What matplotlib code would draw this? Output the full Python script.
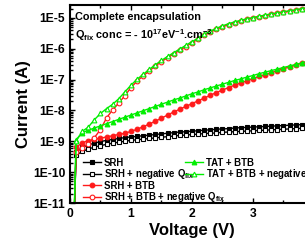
import numpy as np
import matplotlib.pyplot as plt

plt.rcParams['font.family'] = ['Liberation Sans', 'DejaVu Sans']
plt.rcParams['font.weight'] = 'bold'
plt.rcParams['mathtext.fontset'] = 'custom'
plt.rcParams['mathtext.rm'] = 'Liberation Sans:bold'
plt.rcParams['mathtext.bf'] = 'Liberation Sans:bold'
plt.rcParams['mathtext.default'] = 'bf'

# voltage grid (V); first point is the turn-on below the axis
v = [0.06] + [round(0.1 * i, 1) for i in range(1, 41)]

# log10 of current (A)
srh = [-12, -9.35, -9.20, -9.12, -9.06, -9.01, -8.97, -8.94, -8.91, -8.88, -8.86,
       -8.84, -8.82, -8.80, -8.78, -8.76, -8.74, -8.72, -8.70, -8.69, -8.67,
       -8.66, -8.64, -8.63, -8.61, -8.60, -8.59, -8.57, -8.56, -8.55, -8.54,
       -8.53, -8.52, -8.51, -8.50, -8.49, -8.48, -8.47, -8.46, -8.45, -8.44]
srh_q = [-12, -9.45, -9.33, -9.25, -9.19, -9.14, -9.10, -9.06, -9.03, -9.00, -8.97,
         -8.95, -8.93, -8.91, -8.89, -8.87, -8.85, -8.83, -8.81, -8.80, -8.78,
         -8.77, -8.75, -8.74, -8.73, -8.71, -8.70, -8.69, -8.68, -8.67, -8.66,
         -8.65, -8.64, -8.63, -8.62, -8.61, -8.60, -8.59, -8.58, -8.57, -8.56]
srh_btb = [-12, -9.20, -9.05, -8.98, -8.94, -8.90, -8.86, -8.82, -8.78, -8.74, -8.68,
           -8.61, -8.53, -8.44, -8.35, -8.25, -8.15, -8.05, -7.96, -7.87, -7.78,
           -7.69, -7.60, -7.51, -7.42, -7.34, -7.26, -7.18, -7.11, -7.04, -6.97,
           -6.90, -6.84, -6.78, -6.71, -6.65, -6.59, -6.53, -6.47, -6.42, -6.37]
srh_btb_q = [-12, -9.35, -9.22, -9.08, -8.88, -8.62, -8.24, -7.98, -7.76, -7.52, -7.26,
             -7.05, -6.88, -6.72, -6.56, -6.42, -6.29, -6.17, -6.05, -5.93, -5.81,
             -5.69, -5.57, -5.46, -5.37, -5.29, -5.22, -5.16, -5.10, -5.05, -5.01,
             -4.97, -4.93, -4.89, -4.86, -4.82, -4.79, -4.76, -4.72, -4.69, -4.66]
tat_btb = [-12, -8.95, -8.72, -8.64, -8.57, -8.50, -8.43, -8.36, -8.29, -8.22, -8.15,
           -8.08, -8.01, -7.94, -7.87, -7.80, -7.73, -7.66, -7.60, -7.53, -7.46,
           -7.40, -7.33, -7.27, -7.21, -7.15, -7.09, -7.03, -6.98, -6.92, -6.87,
           -6.81, -6.76, -6.71, -6.66, -6.61, -6.56, -6.51, -6.46, -6.41, -6.36]
tat_btb_q = [-12, -9.00, -8.68, -8.54, -8.30, -8.10, -7.94, -7.80, -7.62, -7.40, -7.18,
             -6.99, -6.83, -6.67, -6.52, -6.38, -6.25, -6.13, -6.01, -5.89, -5.77,
             -5.66, -5.53, -5.43, -5.34, -5.26, -5.19, -5.13, -5.08, -5.03, -4.99,
             -4.95, -4.91, -4.87, -4.84, -4.80, -4.77, -4.74, -4.70, -4.67, -4.64]

qfix = r'Q$_{\mathbf{fix}}$'
series = [
    (srh, 'SRH', 'black', 's', 'full'),
    (srh_q, 'SRH + negative ' + qfix, 'black', 's', 'none'),
    (srh_btb, 'SRH + BTB', '#ff1a1a', 'o', 'full'),
    (srh_btb_q, 'SRH + BTB + negative ' + qfix, '#ff1a1a', 'o', 'none'),
    (tat_btb, 'TAT + BTB', '#00ee00', '^', 'full'),
    (tat_btb_q, 'TAT + BTB + negative ' + qfix, '#00ee00', '^', 'none'),
]

fig = plt.figure(figsize=(3.05, 2.44), dpi=100)
ax = fig.add_axes([0.2295, 0.168, 0.8, 0.8115])

handles = []
for vals, lab, col, mk, fill in series:
    h, = ax.plot(v, 10 ** np.array(vals), color=col, marker=mk, ms=3.4, lw=1.0,
                 mew=0.8, mfc=col if fill == 'full' else 'white', label=lab)
    handles.append(h)

ax.set_yscale('log')
ax.set_xlim(0, 4)
ax.set_ylim(1e-11, 2.6e-5)
ax.set_xticks([0, 1, 2, 3, 4])
ax.set_xticks(np.arange(0, 4.01, 0.5), minor=True)
ax.set_yticks([10.0 ** k for k in range(-11, -4)])
ax.set_yticklabels(['1E-11', '1E-10', '1E-9', '1E-8', '1E-7', '1E-6', '1E-5'])
ax.tick_params(which='both', direction='in', top=True, right=True, labelsize=8.7, width=1)
ax.tick_params(which='major', length=3.5)
ax.tick_params(which='minor', length=2)
for s in ax.spines.values():
    s.set_linewidth(1.5)

ax.set_xlabel('Voltage (V)', fontsize=12, fontweight='bold', labelpad=2)
ax.set_ylabel('Current (A)', fontsize=12, fontweight='bold', labelpad=1)

ax.text(0.02, 0.965, 'Complete encapsulation', transform=ax.transAxes,
        fontsize=7.8, fontweight='bold', va='top')
ax.text(0.02, 0.89, r'Q$_{\mathbf{fix}}$ conc = - 10$^{\mathbf{17}}$eV$^{\mathbf{-1}}$.cm$^{\mathbf{-3}}$',
        transform=ax.transAxes, fontsize=7.8, fontweight='bold', va='top')

leg_kw = dict(loc='upper left', frameon=False, fontsize=6.9, handlelength=1.9,
              handletextpad=0.3, labelspacing=-0.05, borderpad=0, borderaxespad=0)
leg1 = fig.legend(handles=handles[:4], bbox_to_anchor=(0.272, 0.354), **leg_kw)
leg2 = fig.legend(handles=handles[4:], bbox_to_anchor=(0.607, 0.354), **leg_kw)

fig.savefig('out.png', dpi=100)
